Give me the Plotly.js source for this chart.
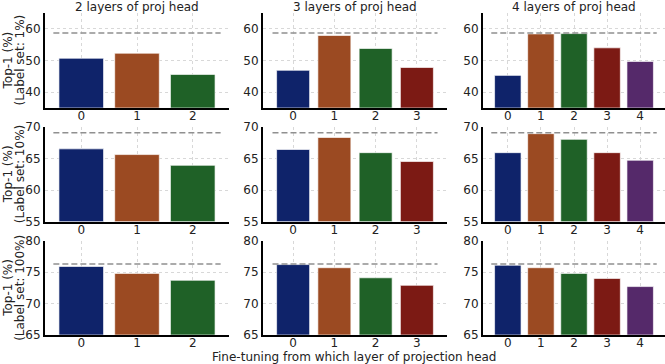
<!DOCTYPE html>
<html>
<head>
<meta charset="utf-8">
<script src="https://cdn.plot.ly/plotly-3.0.1.min.js"></script>
<style>
  html, body { margin: 0; padding: 0; background: #fff; }
  #chart { width: 665px; height: 364px; }
</style>
</head>
<body>
<div id="chart"></div>
<script>
// column titles and row labels
const headTitles = ["2 layers of proj head", "3 layers of proj head", "4 layers of proj head"];
const labelSets = ["1%", "10%", "100%"];

// top-1 values, one list per row (label set), one list per column (head depth)
const top1Label1 = [
    [50.7, 52.3, 45.6],
    [46.9, 57.9, 53.8, 47.8],
    [45.3, 58.4, 58.5, 54.0, 49.7]
];
const top1Label10 = [
    [66.5, 65.6, 63.9],
    [66.4, 68.3, 65.9, 64.5],
    [65.9, 68.9, 68.0, 65.9, 64.7]
];
const top1Label100 = [
    [75.9, 74.8, 73.7],
    [76.2, 75.7, 74.1, 72.9],
    [76.1, 75.7, 74.8, 74.0, 72.7]
];
// dashed reference line per row
const baselines = [58.7, 69.05, 76.3];

const yRanges = [[35, 65], [55, 70], [65, 80]];
const yTicks = [[40, 50, 60], [55, 60, 65, 70], [65, 70, 75, 80]];

const barColors = ["#0f236a", "#9b4a22", "#1f6127", "#7c1a14", "#55296a"];

const W = 665, H = 364;
const colPx = [[45, 229], [263, 447], [483, 665]];
const rowPx = [[13, 108], [126.7, 221.7], [240.7, 335]];
const xPad = [0.65, 0.73, 0.75];

const rows = [top1Label1, top1Label10, top1Label100];
const data = [];
const layout = {
    width: W,
    height: H,
    margin: { l: 0, r: 0, t: 0, b: 0 },
    paper_bgcolor: "#fff",
    plot_bgcolor: "#fff",
    showlegend: false,
    font: { family: "DejaVu Sans", size: 11, color: "#222" },
    annotations: []
};

rows.forEach((rowVals, r) => {
    rowVals.forEach((vals, c) => {
        const idx = r * 3 + c + 1;
        const xa = "x" + (idx === 1 ? "" : idx);
        const ya = "y" + (idx === 1 ? "" : idx);
        const cats = vals.map((_, i) => i);

        data.push({
            type: "bar",
            x: cats,
            y: vals.map(v => v - yRanges[r][0]),
            base: yRanges[r][0],
            width: 0.8,
            marker: {
                color: barColors.slice(0, vals.length),
                line: { color: "rgba(255,255,255,0.65)", width: 1 }
            },
            xaxis: xa,
            yaxis: ya,
            hoverinfo: "skip"
        });

        data.push({
            type: "scatter",
            mode: "lines",
            x: [-0.5, vals.length - 0.5],
            y: [baselines[r], baselines[r]],
            line: { color: "#909090", width: 1.6, dash: "6px,3px" },
            xaxis: xa,
            yaxis: ya,
            hoverinfo: "skip"
        });

        const n = vals.length;
        layout["xaxis" + (idx === 1 ? "" : idx)] = {
            domain: [colPx[c][0] / W, Math.min(1, colPx[c][1] / W)],
            anchor: ya,
            range: [-xPad[c], n - 1 + xPad[c]],
            tickvals: cats,
            ticktext: cats.map(String),
            showgrid: true,
            gridcolor: "#d8d8d8",
            griddash: "dot",
            gridwidth: 1,
            showline: true,
            linecolor: "#000",
            linewidth: 2,
            ticks: "",
            ticklabelstandoff: -4,
            zeroline: false,
            tickfont: { size: 12, color: "#222" },
            fixedrange: true
        };
        layout["yaxis" + (idx === 1 ? "" : idx)] = {
            domain: [1 - rowPx[r][1] / H, 1 - rowPx[r][0] / H],
            anchor: xa,
            range: yRanges[r],
            tickvals: yTicks[r],
            showgrid: true,
            gridcolor: "#d8d8d8",
            griddash: "dot",
            gridwidth: 1,
            showline: true,
            linecolor: "#000",
            linewidth: 2,
            ticks: "",
            zeroline: false,
            tickfont: { size: 12, color: "#222" },
            fixedrange: true
        };
    });
});

headTitles.forEach((t, c) => {
    layout.annotations.push({
        text: t,
        xref: "paper", yref: "paper",
        x: (colPx[c][0] + colPx[c][1]) / 2 / W,
        y: 1 - 7 / H,
        xanchor: "center", yanchor: "middle",
        showarrow: false,
        font: { size: 12, color: "#222" }
    });
});

// two-line y titles, one annotation per line to keep the spacing tight
labelSets.forEach((s, r) => {
    const yc = 1 - (rowPx[r][0] + rowPx[r][1]) / 2 / H;
    [["Top-1 (%)", 8], ["(Label set: " + s + ")", 20]].forEach(([txt, px]) => {
        layout.annotations.push({
            text: txt,
            xref: "paper", yref: "paper",
            x: px / W,
            y: yc,
            xanchor: "center", yanchor: "middle",
            textangle: -90,
            showarrow: false,
            font: { size: 12, color: "#222" }
        });
    });
});

layout.annotations.push({
    text: "Fine-tuning from which layer of projection head",
    xref: "paper", yref: "paper",
    x: 354 / W, y: 1 - 356.5 / H,
    xanchor: "center", yanchor: "middle",
    showarrow: false,
    font: { size: 12, color: "#222" }
});

Plotly.newPlot("chart", data, layout, { staticPlot: true });
</script>
</body>
</html>
